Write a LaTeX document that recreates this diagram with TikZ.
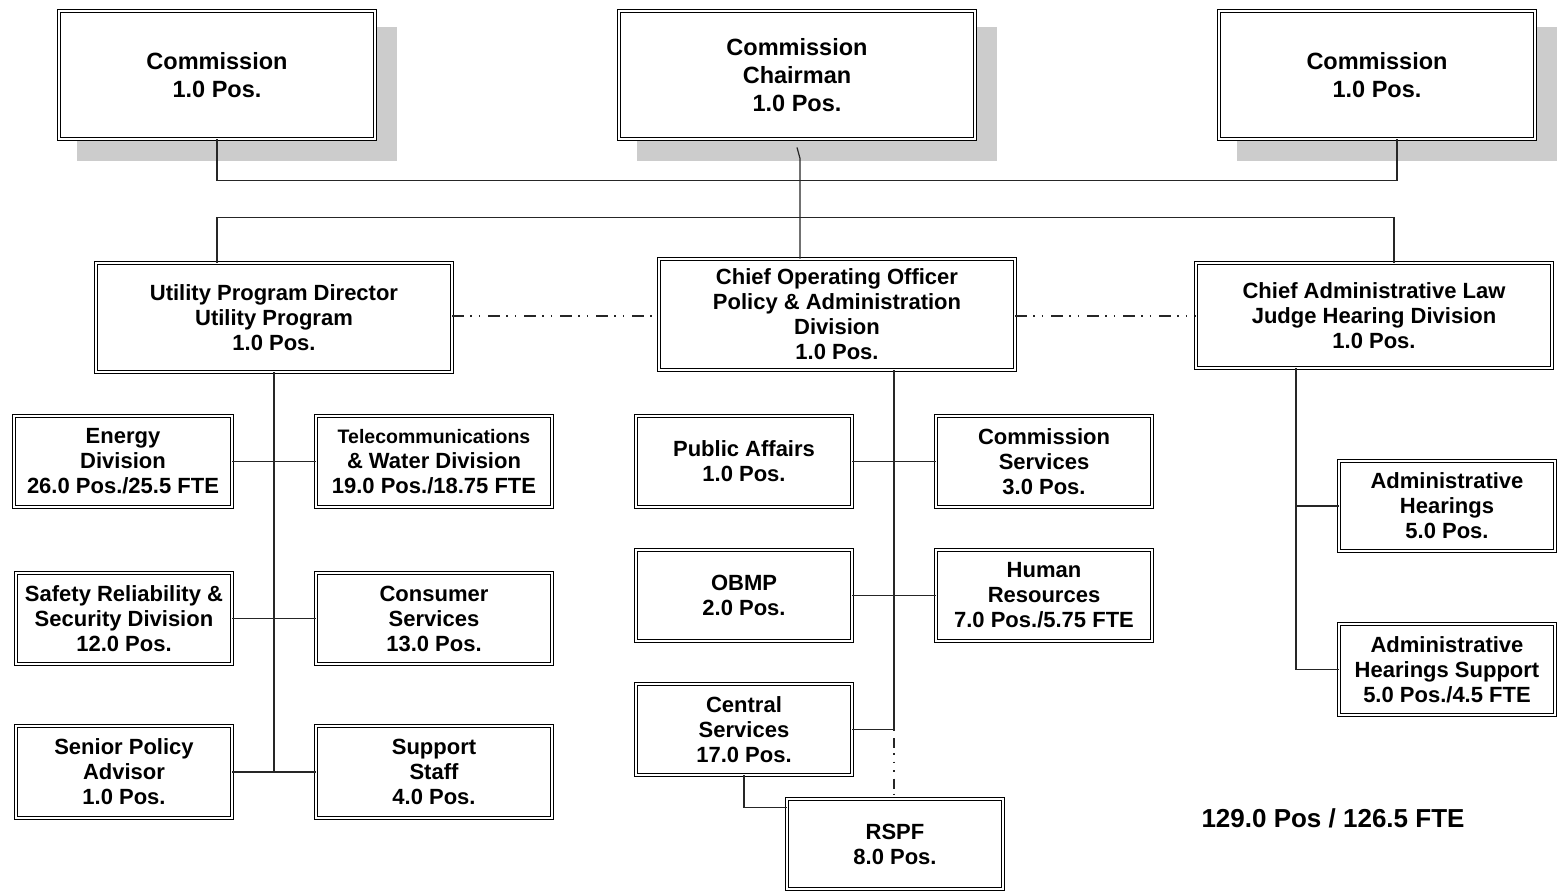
\documentclass[tikz,border=0pt]{standalone}
\usepackage{fontspec}
\setmainfont{Liberation Sans}
\begin{document}
\begin{tikzpicture}[x=1pt,y=-1pt,
  box/.style={draw, double=white, double distance=2pt, line width=0.9pt, fill=white,
    align=center, inner sep=0pt, font=\bfseries\fontsize{22}{25}\selectfont},
  topbox/.style={box, font=\bfseries\fontsize{23.5}{28}\selectfont, minimum width=#1, minimum height=128},
  midbox/.style={box, minimum width=356},
  smallbox/.style={box, minimum width=#1, minimum height=91},
  shadowbox/.style={fill=black!20, draw=none},
  conn/.style={line width=1.2pt, draw=black!85},
  dashdot/.style={line width=1.2pt, draw=black!85, dash pattern=on 12pt off 6pt on 1.5pt off 7pt on 1.5pt off 8pt}
]
\useasboundingbox (0,0) rectangle (1557,893);
\fill[white] (0,0) rectangle (1557,893);

% shadows
\fill[shadowbox] (77,27) rectangle (397,161);
\fill[shadowbox] (637,27) rectangle (997,161);
\fill[shadowbox] (1237,27) rectangle (1557,161);

% top boxes
\node[topbox=316] (commL) at (217,75) {Commission\\1.0 Pos.};
\node[topbox=356] (chair) at (797,75) {Commission\\Chairman\\1.0 Pos.};
\node[topbox=316] (commR) at (1377,75) {Commission\\1.0 Pos.};

% middle row
\node[midbox, minimum height=109] (upd) at (274,317.5) {Utility Program Director\\Utility Program\\1.0 Pos.};
\node[midbox, minimum height=111] (coo) at (837,314.5) {Chief Operating Officer\\Policy \& Administration\\Division\\1.0 Pos.};
\node[midbox, minimum height=105] (calj) at (1374,315.5) {Chief Administrative Law\\Judge Hearing Division\\1.0 Pos.};

% left column
\node[smallbox=218] (energy) at (123,461.5) {Energy\\Division\\26.0 Pos./25.5 FTE};
\node[smallbox=236] (telecom) at (434,461.5) {{\fontsize{19.5}{25}\selectfont Telecommunications}\\\& Water Division\\19.0 Pos./18.75 FTE};
\node[smallbox=216] (safety) at (124,618.5) {Safety Reliability \&\\Security Division\\12.0 Pos.};
\node[smallbox=236] (consumer) at (434,618.5) {Consumer\\Services\\13.0 Pos.};
\node[smallbox=216, minimum height=92] (senior) at (124,772) {Senior Policy\\Advisor\\1.0 Pos.};
\node[smallbox=236, minimum height=92] (support) at (434,772) {Support\\Staff\\4.0 Pos.};

% center column
\node[smallbox=216] (pa) at (744,461.5) {Public Affairs\\1.0 Pos.};
\node[smallbox=216] (cs) at (1044,461.5) {Commission\\Services\\3.0 Pos.};
\node[smallbox=216] (obmp) at (744,595.5) {OBMP\\2.0 Pos.};
\node[smallbox=216] (hr) at (1044,595.5) {Human\\Resources\\7.0 Pos./5.75 FTE};
\node[smallbox=216] (central) at (744,729.5) {Central\\Services\\17.0 Pos.};
\node[smallbox=216, minimum height=90] (rspf) at (895,844) {RSPF\\8.0 Pos.};

% right column
\node[smallbox=216, minimum height=90] (ah) at (1447,506) {Administrative\\Hearings\\5.0 Pos.};
\node[smallbox=216] (ahs) at (1447,669.5) {Administrative\\Hearings Support\\5.0 Pos./4.5 FTE};

% total
\node[font=\bfseries\fontsize{26}{30}\selectfont, inner sep=0pt] (total) at (1333,818) {129.0 Pos / 126.5 FTE};

% top connectors
\coordinate (rdrop) at ([xshift=20pt]commR.south);
\draw[conn] (commL.south) -- (commL.south |- 0,180.5) -| (rdrop);
\coordinate (ch1) at ([yshift=-8pt]chair.south);
\coordinate (ch2) at ([xshift=3pt,yshift=-19pt]chair.south);
\coordinate (cootop) at (ch2 |- coo.north);
\draw[conn] (ch1) -- (ch2) -- (cootop);
\coordinate (updtop) at ([xshift=-57pt]upd.north);
\coordinate (caljtop) at ([xshift=20pt]calj.north);
\draw[conn] (updtop) -- (updtop |- 0,217.5) -| (caljtop);

% dash-dot links
\draw[dashdot] (upd.east |- 0,316) -- (coo.west |- 0,316);
\draw[dashdot] (coo.east |- 0,316) -- (calj.west |- 0,316);

% left column connectors
\coordinate (lbot) at (upd.south |- senior.east);
\draw[conn] (upd.south) -- (lbot);
\draw[conn] (energy.east) -- (telecom.west);
\draw[conn] (safety.east) -- (consumer.west);
\draw[conn] (senior.east) -- (support.west);

% center column connectors
\coordinate (ctop) at ([xshift=57pt]coo.south);
\coordinate (cbot) at (ctop |- central.east);
\draw[conn] (ctop) -- (cbot) -- (central.east);
\draw[conn] (pa.east) -- (cs.west);
\draw[conn] (obmp.east) -- (hr.west);
\draw[dashdot, dash pattern=on 1.5pt off 7pt on 10pt off 5pt on 1.5pt off 7pt on 1.5pt off 7pt] (cbot) -- (cbot |- rspf.north);
\coordinate (rspfjoin) at ([yshift=-9pt]rspf.north west);
\draw[conn] (central.south) |- (rspfjoin);

% right column connectors
\coordinate (rtop) at ([xshift=-78pt]calj.south);
\coordinate (rbot) at (rtop |- ahs.west);
\draw[conn] (rtop) -- (rbot) -- (ahs.west);
\draw[conn] (rtop |- ah.west) -- (ah.west);
\end{tikzpicture}
\end{document}
